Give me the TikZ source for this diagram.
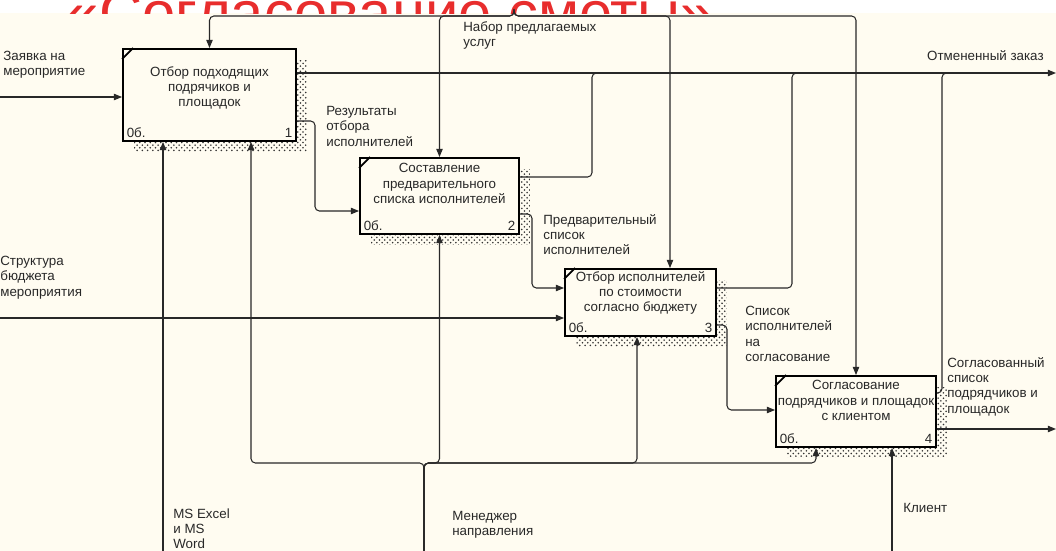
\documentclass[tikz,border=0pt]{standalone}
\usepackage{fontspec}
\setmainfont{Liberation Sans}
\usetikzlibrary{positioning}
\usetikzlibrary{calc}
\usetikzlibrary{arrows.meta}
\usetikzlibrary{patterns}
\usetikzlibrary{shadows}
\definecolor{paper}{RGB}{255,252,241}
\definecolor{ink}{RGB}{40,40,40}
\definecolor{titlered}{RGB}{232,45,45}

\begin{document}
\begin{tikzpicture}[x=0.02cm, y=-0.02cm,
    func/.style={draw=black, line width=1.1pt, fill=paper, inner sep=0pt,
      general shadow={shadow xshift=0.22cm, shadow yshift=-0.22cm,
        pattern=crosshatch dots, pattern color=black!80}},
    ftxt/.style={anchor=north, align=center, inner sep=0pt,
      font=\fontsize{7.6}{8.7}\selectfont, text=ink},
    tag/.style={inner sep=2.5pt, font=\fontsize{7.6}{8.7}\selectfont, text=ink},
    lbl/.style={anchor=north west, align=left, inner sep=0pt,
      font=\fontsize{7.6}{8.7}\selectfont, text=ink},
    link/.style={draw=ink, line width=0.6pt, rounded corners=2.5pt},
    arr/.style={-{Triangle[length=4.6pt,width=3.6pt]}},
    cornermark/.style={line width=1pt}]

    % background and title
    \fill[white] (0,0) rectangle (1056,13);
    \fill[paper] (0,13) rectangle (1056,551);
    \begin{scope}
        \clip (0,0) rectangle (1056,13);
        \node[font=\fontsize{34}{36}\selectfont, text=titlered, anchor=base, inner sep=0pt]
            (ttl) at (390,33) {«Согласование сметы»};
    \end{scope}
    \useasboundingbox (0,0) rectangle (1056,551);

    % functions
    \node[func, minimum width=3.46cm, minimum height=1.84cm] (f1) at (209.5,95) {};
    \draw[cornermark] ($(f1.north west)+(0,11)$) -- ($(f1.north west)+(11,0)$);
    \node[ftxt] (t1) at ($(f1.north)+(0,18)$) {Отбор подходящих\\подрячиков и\\площадок};
    \node[tag, anchor=south west] (n1a) at (f1.south west) {0б.};
    \node[tag, anchor=south east] (n1b) at (f1.south east) {1};

    \node[func, minimum width=3.18cm, minimum height=1.52cm] (f2) at (439.5,196) {};
    \draw[cornermark] ($(f2.north west)+(0,11)$) -- ($(f2.north west)+(11,0)$);
    \node[ftxt] (t2) at ($(f2.north)+(0,6)$) {Составление\\предварительного\\списка исполнителей};
    \node[tag, anchor=south west] (n2a) at (f2.south west) {0б.};
    \node[tag, anchor=south east] (n2b) at (f2.south east) {2};

    \node[func, minimum width=3.02cm, minimum height=1.34cm] (f3) at (640.5,302.5) {};
    \draw[cornermark] ($(f3.north west)+(0,11)$) -- ($(f3.north west)+(11,0)$);
    \node[ftxt] (t3) at ($(f3.north)+(0,3)$) {Отбор исполнителей\\по стоимости\\согласно бюджету};
    \node[tag, anchor=south west] (n3a) at (f3.south west) {0б.};
    \node[tag, anchor=south east] (n3b) at (f3.south east) {3};

    \node[func, minimum width=3.2cm, minimum height=1.42cm] (f4) at (856,411.5) {};
    \draw[cornermark] ($(f4.north west)+(0,11)$) -- ($(f4.north west)+(11,0)$);
    \node[ftxt] (t4) at ($(f4.north)+(0,5)$) {Согласование\\подрядчиков и площадок\\с клиентом};
    \node[tag, anchor=south west] (n4a) at (f4.south west) {0б.};
    \node[tag, anchor=south east] (n4b) at (f4.south east) {4};

    % free ends
    \coordinate (zin) at (0,97);
    \coordinate (sin) at (0,318);
    \coordinate (cxl) at (1056,73);
    \coordinate (agr) at (1056,429);
    \coordinate (ctop) at (514,13);
    \coordinate (mex) at (163,551);
    \coordinate (mgr) at (424,551);
    \coordinate (cli) at (892,551);

    % inputs and outputs
    \draw[link,arr] (zin) -- (zin -| f1.west);
    \draw[link,arr] (sin) -- (sin -| f3.west);
    \draw[link,arr] (cxl -| f1.east) -- (cxl);
    \draw[link,arr] (agr -| f4.east) -- (agr);
    \draw[link,arr] (f1.east |- 0,121) -- (315,121) -- (315,211) -- (f2.west |- 0,211);
    \draw[link,arr] (f2.east |- 0,214) -- (532,214) -- (532,288) -- (f3.west |- 0,288);
    \draw[link,arr] (f3.east |- 0,325) -- (727,325) -- (727,410) -- (f4.west |- 0,410);
    \draw[link] (f2.east |- 0,177) -- (592,177) -- (592,0 |- cxl) -- (604,0 |- cxl);
    \draw[link] (f3.east |- 0,288) -- (792,288) -- (792,0 |- cxl) -- (804,0 |- cxl);
    \draw[link] (f4.east |- 0,393) -- (942,393) -- (942,0 |- cxl) -- (954,0 |- cxl);

    % controls
    \draw[link,arr] (ctop) -- (514,16) -- (f1.north |- 0,16) -- (f1.north);
    \draw[link,arr] (ctop) -- (514,16) -- (f2.north |- 0,16) -- (f2.north);
    \draw[link,arr] (ctop) -- (514,16) -- (670,16) -- (670,0 |- f3.north);
    \draw[link,arr] (ctop) -- (514,16) -- (f4.north |- 0,16) -- (f4.north);

    % mechanisms
    \draw[link,arr] (mex) -- (mex |- f1.south);
    \draw[link,arr] (mgr) -- (424,463) -- (251,463) -- (251,0 |- f1.south);
    \draw[link,arr] (mgr) -- (424,463) -- (f2.south |- 0,463) -- (f2.south);
    \draw[link,arr] (mgr) -- (424,463) -- (637,463) -- (637,0 |- f3.south);
    \draw[link,arr] (mgr) -- (424,463) -- (816,463) -- (816,0 |- f4.south);
    \draw[link,arr] (cli) -- (cli |- f4.south);

    % arrow labels
    \node[lbl] (lzin) at (3,51) {Заявка на\\мероприятие};
    \node[lbl] (lsin) at (0,256) {Структура\\бюджета\\мероприятия};
    \node[lbl] (lnab) at (463,21) {Набор предлагаемых\\услуг};
    \node[lbl, anchor=north east] (lcxl) at (1044,50) {Отмененный заказ};
    \node[lbl] (lres) at (326,106) {Результаты\\отбора\\исполнителей};
    \node[lbl] (lpre) at (543,214) {Предварительный\\список\\исполнителей};
    \node[lbl] (lspi) at (745,306) {Список\\исполнителей\\на\\согласование};
    \node[lbl] (lagr) at (947,357) {Согласованный\\список\\подрядчиков и\\площадок};
    \node[lbl] (lmex) at (173,508) {MS Excel\\и MS\\Word};
    \node[lbl] (lmgr) at (452,511) {Менеджер\\направления};
    \node[lbl] (lcli) at (903,503) {Клиент};
\end{tikzpicture}
\end{document}
